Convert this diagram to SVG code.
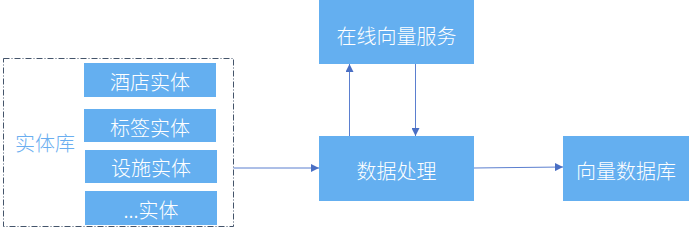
<svg xmlns="http://www.w3.org/2000/svg" width="693" height="234" viewBox="0 0 693 234">
<style>
.box{fill:#64aff0}
.t{fill:#fff;font-family:"Noto Sans CJK SC","Noto Sans",sans-serif;font-size:20px;font-weight:300;text-anchor:middle;dominant-baseline:central}
.c{stroke:#5b7fcf;stroke-width:1;fill:none;marker-end:url(#ah)}
</style>
<defs>
<marker id="ah" viewBox="0 0 10 10" refX="10" refY="5" markerWidth="8" markerHeight="8" markerUnits="userSpaceOnUse" orient="auto">
<path d="M0,0 L10,5 L0,10 z" fill="#4a6fc4"/>
</marker>
</defs>
<rect width="693" height="234" fill="#fff"/>
<g id="entity-lib">
<rect x="3.5" y="58.5" width="230" height="168" fill="none" stroke="#44546a" stroke-width="1" stroke-dasharray="6,2,1,2"/>
<text x="45" y="142" font-family="'Noto Sans CJK SC',sans-serif" font-size="20" font-weight="300" fill="#6aaef0" text-anchor="middle" dominant-baseline="central">实体库</text>
</g>
<g id="hotel"><rect class="box" x="84" y="63" width="132" height="34"/><text class="t" x="150" y="81">酒店实体</text></g>
<g id="tag"><rect class="box" x="84" y="109" width="132" height="33"/><text class="t" x="150" y="127">标签实体</text></g>
<g id="facility"><rect class="box" x="85" y="150" width="132" height="33"/><text class="t" x="151" y="167">设施实体</text></g>
<g id="other"><rect class="box" x="85" y="191" width="132" height="34"/><text class="t" x="151" y="209">...实体</text></g>
<g id="online"><rect class="box" x="319" y="0" width="155" height="64"/><text class="t" x="396.5" y="35">在线向量服务</text></g>
<g id="process"><rect class="box" x="319" y="136" width="155" height="65"/><text class="t" x="396.5" y="170">数据处理</text></g>
<g id="vecdb"><rect class="box" x="563" y="136" width="126" height="65"/><text class="t" x="626" y="170">向量数据库</text></g>
<g id="connectors">
<path class="c" d="M233.5,168 L319,168"/>
<path class="c" d="M349.5,136 L349.5,64"/>
<path class="c" d="M415.5,64 L415.5,136"/>
<path class="c" d="M474,168 L563,167"/>
</g>
</svg>
